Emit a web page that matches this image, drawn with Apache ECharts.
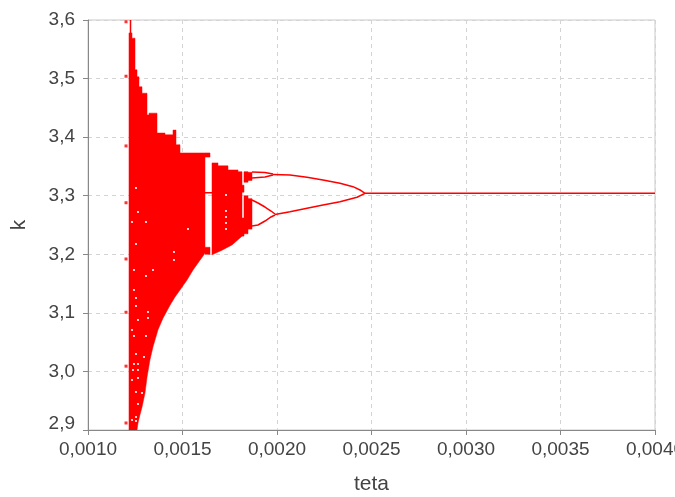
<!DOCTYPE html>
<html lang="en">
<head>
    <meta charset="utf-8">
    <script src="https://cdn.jsdelivr.net/npm/echarts@6/dist/echarts.min.js"></script>
    <style>
        body { margin: 0; background: #fff; }
    </style>
</head>
<body>
<div id="main" style="width: 675px;height:497px;"></div>
<script type="text/javascript">
    // axis ticks
    var xTicks = [0.0010, 0.0015, 0.0020, 0.0025, 0.0030, 0.0035, 0.0040];
    var yTicks = [2.9, 3.0, 3.1, 3.2, 3.3, 3.4, 3.5, 3.6];

    // chaotic band 1: upper edge (steps) and lower edge (curve)
    var band1TopX = [0.0012169, 0.0012222, 0.0012275, 0.0012328, 0.0012487, 0.0012593, 0.0012698,
        0.0012857, 0.0013122, 0.0013228, 0.0013651, 0.0014074, 0.0014497, 0.0014656, 0.0014868,
        0.0016190];
    var band1TopK = [3.578, 3.600, 3.578, 3.569, 3.515, 3.503, 3.486, 3.475, 3.438, 3.441, 3.407,
        3.404, 3.412, 3.387, 3.373];
    var band1LowX = [0.0012169, 0.0012593, 0.0012646, 0.0012751, 0.0012857, 0.0013016, 0.0013122,
        0.0013280, 0.0013439, 0.0013704, 0.0013968, 0.0014339, 0.0014603, 0.0014868, 0.0015238,
        0.0015556, 0.0015926, 0.0016085, 0.0016190];
    var band1LowK = [2.900, 2.900, 2.912, 2.926, 2.939, 2.963, 2.990, 3.020, 3.042, 3.071, 3.091,
        3.113, 3.127, 3.139, 3.156, 3.173, 3.190, 3.197, 3.202];

    // chaotic band 2
    var band2TopX = [0.0016561, 0.0016878, 0.0017407, 0.0017937, 0.0018148];
    var band2TopK = [3.356, 3.351, 3.344, 3.341];
    var band2LowX = [0.0016561, 0.0017090, 0.0017619, 0.0018148];
    var band2LowK = [3.199, 3.207, 3.216, 3.231];

    // loose pieces of the chaotic region (x0, x1, kLo, kHi)
    var pieceX0 = [0.0016190, 0.0016190, 0.0018148, 0.0018148, 0.0018254, 0.0018254, 0.0018466, 0.0018466];
    var pieceX1 = [0.0016455, 0.0016455, 0.0018254, 0.0018254, 0.0018466, 0.0018466, 0.0018677, 0.0018677];
    var pieceLo = [3.200, 3.366, 3.231, 3.306, 3.235, 3.323, 3.243, 3.326];
    var pieceHi = [3.212, 3.373, 3.262, 3.318, 3.300, 3.341, 3.295, 3.340];

    // periodic branches
    var bridge = [[0.0016085, 3.305], [0.0016561, 3.305]];
    var upperA = [[0.0018677, 3.3405], [0.0019365, 3.3396], [0.0019788, 3.3371]];
    var upperB = [[0.0018677, 3.3303], [0.0019365, 3.3320], [0.0019788, 3.3354]];
    var upper2 = [[0.0019788, 3.3363], [0.0020688, 3.3354], [0.0021587, 3.3314], [0.0022434, 3.3268],
        [0.0023333, 3.3212], [0.0024021, 3.3154], [0.0024392, 3.3098], [0.0024656, 3.3041]];
    var loopUp = [[0.0018677, 3.2927], [0.0018995, 3.2876], [0.0019365, 3.2807], [0.0019683, 3.2739], [0.0019894, 3.2688]];
    var loopLow = [[0.0018677, 3.2483], [0.0018995, 3.2500], [0.0019365, 3.2568], [0.0019683, 3.2637], [0.0019894, 3.2671]];
    var lower2 = [[0.0019894, 3.2680], [0.0020688, 3.2727], [0.0021587, 3.2785], [0.0022434, 3.2841],
        [0.0023333, 3.2898], [0.0024233, 3.2973], [0.0024656, 3.3041]];
    var period1 = [[0.0024656, 3.3041], [0.0040, 3.3041]];

    // stray points left of the band
    var strayX = [0.0012011, 0.0012011, 0.0012011, 0.0012011, 0.0012011, 0.0012011, 0.0012011, 0.0012011];
    var strayK = [3.597, 3.504, 3.385, 3.288, 3.192, 3.101, 3.009, 2.912];

    // white holes inside the band
    var holeX = [0.0012434, 0.0013439, 0.0013069, 0.0012434, 0.0012540, 0.0012540, 0.0013175, 0.0012646,
        0.0013175, 0.0012328, 0.0012434, 0.0013069, 0.0012540, 0.0012963, 0.0012434, 0.0012646,
        0.0012381, 0.0012646, 0.0012328, 0.0012646, 0.0012540, 0.0012857, 0.0012646, 0.0012540,
        0.0012540, 0.0012328, 0.0012540, 0.0012646, 0.0012328, 0.0013069, 0.0012540, 0.0015291,
        0.0014550, 0.0014550, 0.0017302, 0.0017302, 0.0017302, 0.0017302, 0.0017302];
    var holeK = [3.1732, 3.1732, 3.1629, 3.1390, 3.1254, 3.1117, 3.1015, 3.0878, 3.0912, 3.0707,
        3.0605, 3.0605, 3.0298, 3.0246, 3.0127, 3.0127, 3.0024, 3.0024, 2.9854, 2.9888, 2.9649,
        2.9632, 2.9444, 2.9222, 2.9154, 2.9171, 3.3132, 3.2722, 3.2551, 3.2551, 3.2176, 3.2432,
        3.2039, 3.1902, 3.3012, 3.2739, 3.2637, 3.2534, 3.2432];

    var RED = '#ff0000';
    var FONT = 'Liberation Sans, Arial, sans-serif';

    // outline of a band in data units: stepped top, then lower curve back
    function bandOutline(topX, topK, lowX, lowK) {
        var pts = [[lowX[0], lowK[0]]];
        for (var i = 0; i < topK.length; i++) {
            pts.push([topX[i], topK[i]]);
            pts.push([topX[i + 1], topK[i]]);
        }
        for (var j = lowX.length - 1; j >= 0; j--) {
            pts.push([lowX[j], lowK[j]]);
        }
        return pts;
    }
    var bands = [
        bandOutline(band1TopX, band1TopK, band1LowX, band1LowK),
        bandOutline(band2TopX, band2TopK, band2LowX, band2LowK)
    ];

    function renderBand(params, api) {
        var pts = bands[params.dataIndex].map(function (p) { return api.coord(p); });
        return {
            type: 'polygon',
            shape: { points: pts },
            style: { fill: RED, stroke: RED, lineWidth: 0.5 }
        };
    }

    var rects = pieceX0.map(function (x0, i) { return [x0, pieceX1[i], pieceLo[i], pieceHi[i]]; });

    function renderRect(params, api) {
        var a = api.coord([api.value(0), api.value(3)]);
        var b = api.coord([api.value(1), api.value(2)]);
        return {
            type: 'rect',
            shape: { x: a[0], y: a[1], width: b[0] - a[0], height: b[1] - a[1] },
            style: { fill: RED, stroke: RED, lineWidth: 0.5 }
        };
    }

    function zip(xs, ys) {
        return xs.map(function (x, i) { return [x, ys[i]]; });
    }

    function branch(data) {
        return {
            type: 'line', data: data, showSymbol: false, silent: true,
            lineStyle: { color: RED, width: 1.5 }, z: 3
        };
    }

    var myChart = echarts.init(document.getElementById('main'));

    var option = {
        animation: false,
        grid: {
            left: 88, right: 20, top: 20, bottom: 67,
            outerBoundsMode: 'none', containLabel: false,
            show: true, borderColor: '#c8c8c8', borderWidth: 1
        },
        xAxis: {
            type: 'value',
            min: xTicks[0], max: xTicks[xTicks.length - 1], interval: 0.0005,
            name: 'teta', nameLocation: 'middle', nameGap: 44,
            nameTextStyle: { fontFamily: FONT, fontSize: 21, color: '#444' },
            axisLine: { lineStyle: { color: '#888' } },
            axisTick: { show: true, length: 5, lineStyle: { color: '#888' } },
            axisLabel: {
                fontFamily: FONT, fontSize: 19, color: '#444', margin: 10,
                formatter: function (v) { return v.toFixed(4).replace('.', ','); }
            },
            splitLine: { lineStyle: { color: '#d4d4d4', type: [4, 4] } }
        },
        yAxis: {
            type: 'value',
            min: yTicks[0], max: yTicks[yTicks.length - 1], interval: 0.1,
            name: 'k', nameLocation: 'middle', nameGap: 58,
            nameTextStyle: { fontFamily: FONT, fontSize: 21, color: '#444' },
            axisLine: { show: true, lineStyle: { color: '#888' } },
            axisTick: { show: true, length: 5, lineStyle: { color: '#888' } },
            axisLabel: {
                fontFamily: FONT, fontSize: 19, color: '#444', margin: 13,
                formatter: function (v) {
                    var s = v.toFixed(1).replace('.', ',');
                    // lowest label sits a bit higher, clear of the x labels
                    return v <= yTicks[0] + 1e-9 ? '{low|' + s + '}' : s;
                },
                rich: {
                    low: { fontFamily: FONT, fontSize: 19, color: '#444', padding: [0, 0, 12, 0] }
                }
            },
            splitLine: { lineStyle: { color: '#d4d4d4', type: [4, 4] } }
        },
        series: [
            {
                type: 'custom', data: [[0], [1]], renderItem: renderBand,
                clip: true, silent: true, z: 2
            },
            {
                type: 'custom', data: rects, renderItem: renderRect,
                encode: { x: [0, 1], y: [2, 3] }, clip: true, silent: true, z: 2
            },
            branch(bridge), branch(upperA), branch(upperB), branch(upper2),
            branch(loopUp), branch(loopLow), branch(lower2), branch(period1),
            {
                type: 'scatter', data: zip(strayX, strayK), symbol: 'rect', symbolSize: 3,
                itemStyle: { color: RED }, silent: true, z: 4
            },
            {
                type: 'scatter', data: zip(holeX, holeK), symbol: 'rect', symbolSize: 2,
                itemStyle: { color: '#ffffff' }, silent: true, z: 4
            }
        ]
    };

    myChart.setOption(option);
</script>
</body>
</html>
